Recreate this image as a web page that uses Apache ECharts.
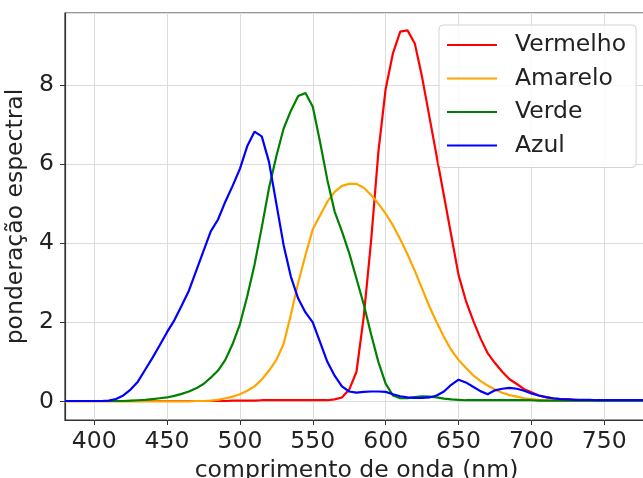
<!DOCTYPE html>
<html>
<head>
<meta charset="utf-8">
<script src="https://cdn.jsdelivr.net/npm/echarts@6/dist/echarts.min.js"></script>
<style>
  html, body { margin: 0; padding: 0; background: #fff; }
  #chart { width: 643px; height: 478px; }
</style>
</head>
<body>
<div id="chart"></div>
<script>
// Wavelength samples (nm), every 5 nm from 380 to 780
const wavelengths = [
  380,385,390,395,400,405,410,415,420,425,430,435,440,445,450,455,460,465,470,475,
  480,485,490,495,500,505,510,515,520,525,530,535,540,545,550,555,560,565,570,575,
  580,585,590,595,600,605,610,615,620,625,630,635,640,645,650,655,660,665,670,675,
  680,685,690,695,700,705,710,715,720,725,730,735,740,745,750,755,760,765,770,775,780
];

// Spectral weighting per channel
const vermelho = [
  0.01,0.01,0.01,0.01,0.01,0.01,0.01,0.01,0.01,0.01,0.01,0.01,0.01,0.01,0.01,0.01,0.01,0.01,0.01,0.01,
  0.01,0.01,0.01,0.02,0.02,0.02,0.02,0.03,0.03,0.03,0.03,0.03,0.03,0.03,0.03,0.03,0.03,0.05,0.1,0.3,
  0.75,2.15,4.05,6.3,7.9,8.8,9.35,9.38,9.05,8.2,7.2,6.2,5.2,4.2,3.2,2.55,2.05,1.6,1.22,0.97,
  0.75,0.56,0.44,0.31,0.23,0.15,0.11,0.07,0.06,0.05,0.04,0.03,0.03,0.03,0.02,0.02,0.02,0.02,0.02,0.02,0.02
];
const amarelo = [
  0.0,0.0,0.0,0.0,0.0,0.0,0.0,0.0,0.0,0.0,0.0,0.0,0.0,0.0,0.0,0.0,0.0,0.0,0.01,0.01,
  0.02,0.04,0.08,0.12,0.18,0.27,0.38,0.55,0.78,1.05,1.45,2.2,3.0,3.7,4.35,4.7,5.05,5.3,5.45,5.5,
  5.5,5.4,5.22,5.0,4.75,4.45,4.1,3.72,3.3,2.85,2.4,2.0,1.63,1.3,1.05,0.85,0.66,0.52,0.4,0.3,
  0.22,0.16,0.12,0.08,0.06,0.04,0.03,0.02,0.02,0.01,0.01,0.01,0.01,0.01,0.01,0.01,0.01,0.01,0.01,0.01,0.01
];
const verde = [
  0.01,0.01,0.01,0.01,0.01,0.01,0.01,0.01,0.01,0.02,0.03,0.04,0.06,0.08,0.1,0.14,0.19,0.25,0.33,0.44,
  0.6,0.78,1.05,1.45,1.95,2.65,3.45,4.4,5.4,6.2,6.9,7.35,7.72,7.8,7.45,6.56,5.6,4.8,4.3,3.75,
  3.1,2.45,1.7,1.0,0.45,0.15,0.08,0.08,0.11,0.13,0.12,0.1,0.07,0.05,0.04,0.03,0.03,0.03,0.03,0.03,
  0.03,0.03,0.03,0.03,0.03,0.02,0.02,0.02,0.02,0.02,0.02,0.02,0.02,0.02,0.02,0.02,0.02,0.02,0.02,0.02,0.02
];
const azul = [
  0.01,0.01,0.01,0.01,0.01,0.01,0.02,0.06,0.15,0.3,0.5,0.8,1.1,1.42,1.75,2.05,2.42,2.8,3.3,3.8,
  4.3,4.6,5.05,5.45,5.88,6.45,6.82,6.7,6.05,5.0,3.95,3.15,2.6,2.25,2.0,1.5,1.0,0.65,0.38,0.25,
  0.22,0.24,0.25,0.25,0.24,0.18,0.13,0.1,0.09,0.09,0.1,0.15,0.25,0.42,0.55,0.48,0.37,0.26,0.18,0.28,
  0.32,0.34,0.32,0.27,0.2,0.15,0.11,0.08,0.06,0.05,0.04,0.04,0.04,0.03,0.03,0.03,0.03,0.03,0.03,0.03,0.03
];

const seriesNames = ['Vermelho', 'Amarelo', 'Verde', 'Azul'];
const seriesValues = [vermelho, amarelo, verde, azul];
const seriesColors = ['#ff0000', '#ffa500', '#008000', '#0000ff'];

const FONT = 'DejaVu Sans';
const FONT_SIZE = 23.5;
const TEXT = '#222';

const chart = echarts.init(document.getElementById('chart'), null, { renderer: 'canvas' });

// Legend swatch: a 50px line followed by an invisible spacer so the label sits further right
const swatch = 'path://M0,0h50v2h-50z M63,0h0.01v2h-0.01z';

chart.setOption({
  animation: false,
  backgroundColor: '#fff',
  grid: {
    left: 65, right: -5, top: 13, bottom: 58,
    outerBoundsMode: 'none',
    containLabel: false,
    show: true, borderColor: '#333', borderWidth: 1.2, backgroundColor: 'transparent'
  },
  legend: {
    orient: 'vertical',
    left: 439, top: 25,
    padding: [7, 10, 9, 8],
    itemGap: 7.5,
    itemWidth: 63, itemHeight: 2,
    icon: swatch,
    backgroundColor: 'rgba(255,255,255,0.85)',
    borderColor: '#d4d4d4', borderWidth: 1, borderRadius: 4,
    textStyle: { fontFamily: FONT, fontSize: FONT_SIZE, color: TEXT, lineHeight: 26 },
    data: seriesNames
  },
  xAxis: {
    type: 'value',
    min: 380, max: 780,
    splitNumber: 8, minInterval: 50, maxInterval: 50,
    name: 'comprimento de onda (nm)',
    nameLocation: 'middle', nameGap: 36,
    nameTextStyle: { fontFamily: FONT, fontSize: FONT_SIZE, color: TEXT },
    axisLine: { show: true, onZero: false, lineStyle: { color: '#333', width: 1.2 } },
    axisTick: { show: true, inside: false, length: 5, lineStyle: { color: '#333', width: 1 } },
    axisLabel: { showMinLabel: false, showMaxLabel: false, margin: 10,
      fontFamily: FONT, fontSize: FONT_SIZE, color: TEXT },
    splitLine: { show: true, lineStyle: { color: '#dcdcdc', width: 1 } }
  },
  yAxis: {
    type: 'value',
    min: -0.47, max: 9.82,
    splitNumber: 5, minInterval: 2, maxInterval: 2,
    name: 'ponderação espectral',
    nameLocation: 'middle', nameGap: 28, nameRotate: 90,
    nameTextStyle: { fontFamily: FONT, fontSize: FONT_SIZE, color: TEXT },
    axisLine: { show: true, onZero: false, lineStyle: { color: '#333', width: 1.2 } },
    axisTick: { show: true, inside: false, length: 5, lineStyle: { color: '#333', width: 1 } },
    axisLabel: { showMinLabel: false, showMaxLabel: false, margin: 11,
      fontFamily: FONT, fontSize: FONT_SIZE, color: TEXT },
    splitLine: { show: true, lineStyle: { color: '#dcdcdc', width: 1 } }
  },
  series: seriesNames.map((name, i) => ({
    name: name,
    type: 'line',
    data: wavelengths.map((w, k) => [w, seriesValues[i][k]]),
    showSymbol: false,
    symbol: 'none',
    smooth: false,
    color: seriesColors[i],
    lineStyle: { color: seriesColors[i], width: 2.2 },
    z: 2 + i
  }))
});
</script>
</body>
</html>
